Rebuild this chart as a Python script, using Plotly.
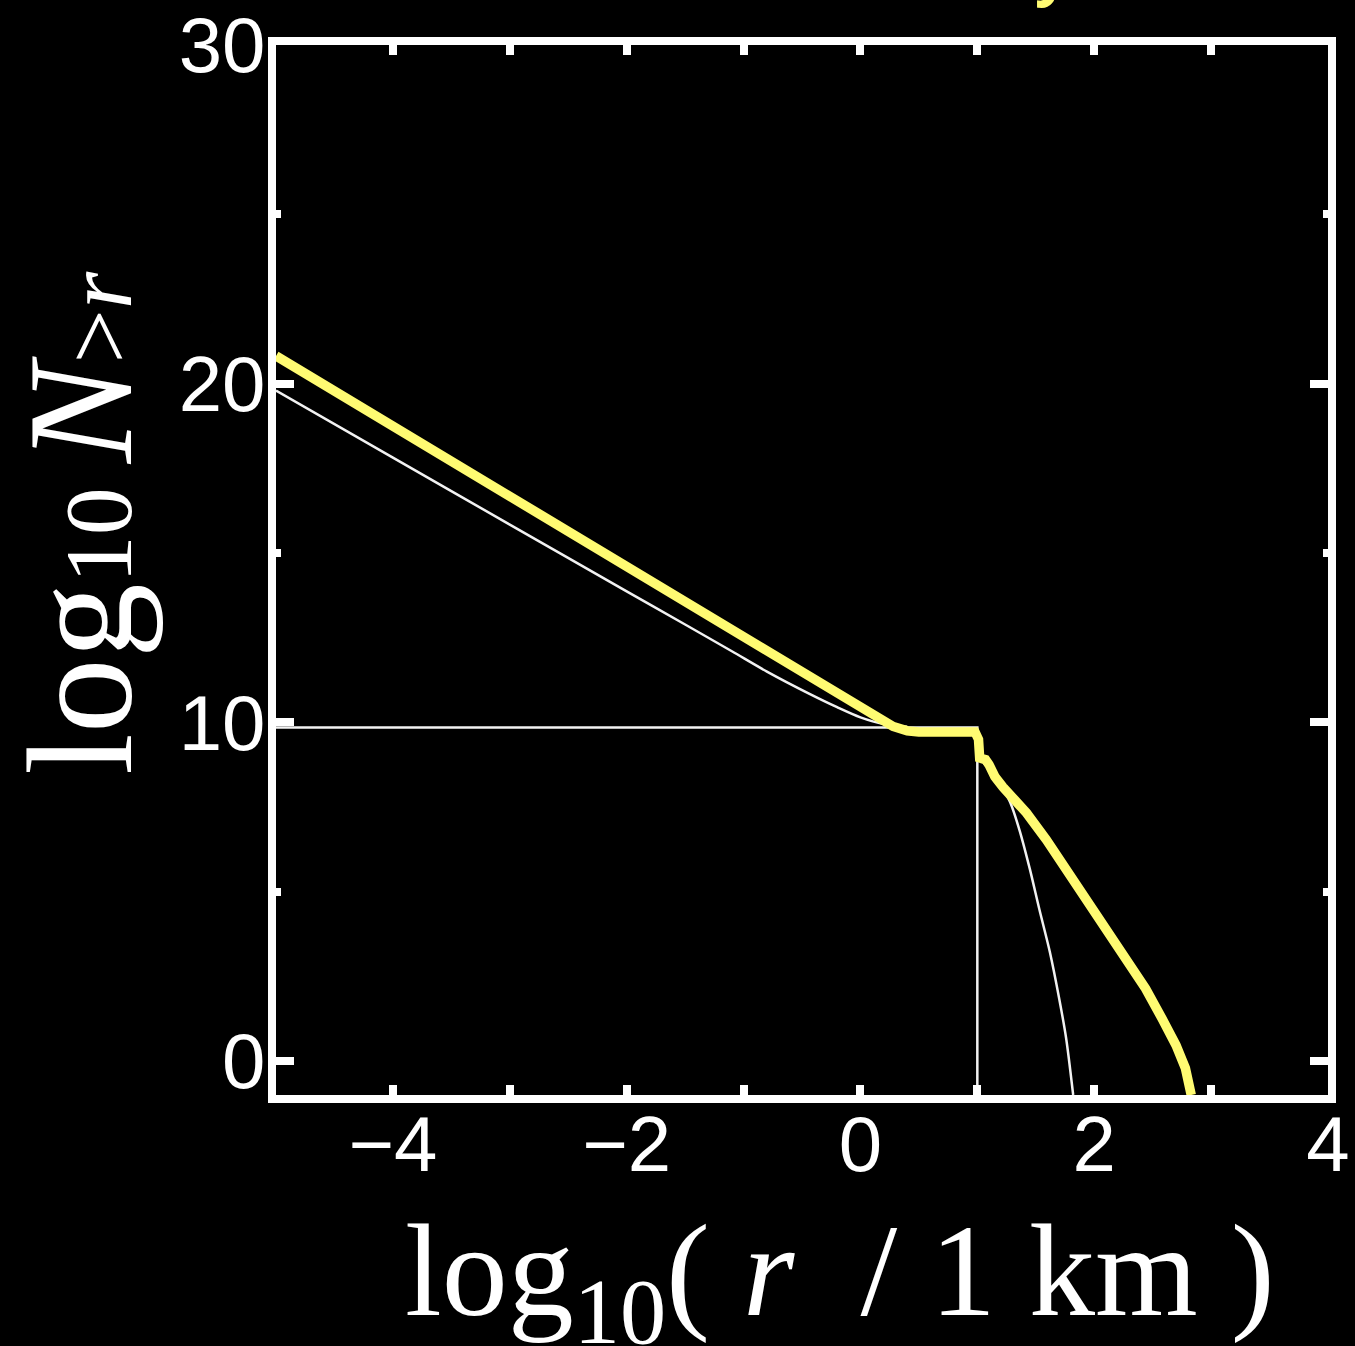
import plotly.graph_objects as go

# yellow: present-day size distribution
yellow_x = [-5.0, 0.0, 0.15, 0.28, 0.40, 0.50, 0.98, 1.01, 1.02, 1.07, 1.10, 1.12, 1.15, 1.22,
            1.42, 1.59, 1.76, 1.93, 2.10, 2.27, 2.44, 2.58, 2.70, 2.78, 2.83]
yellow_y = [20.82, 10.45, 10.12, 9.88, 9.75, 9.72, 9.72, 9.5, 8.95, 8.9, 8.75, 8.55, 8.4, 8.09,
            7.33, 6.54, 5.66, 4.78, 3.90, 3.01, 2.14, 1.26, 0.47, -0.21, -1.0]

# white thin curves
cascade_x = [-5.0, -4.0, -3.0, -2.0, -1.5, -1.1, -0.8, -0.44, -0.2, 0.0, 0.2, 0.4]
cascade_y = [19.8, 17.82, 15.84, 13.87, 12.89, 12.1, 11.5, 10.85, 10.45, 10.15, 9.95, 9.87]

initial_x = [-5.0, 1.0, 1.0]
initial_y = [9.85, 9.85, -1.0]

evolved_x = [1.03, 1.12, 1.20, 1.28, 1.36, 1.45, 1.53, 1.62, 1.70, 1.76, 1.82]
evolved_y = [8.9, 8.55, 8.15, 7.65, 6.83, 5.66, 4.49, 3.23, 1.85, 0.67, -1.0]

YELLOW = "#FFFB72"
WHITE = "#F2F2F2"

fig = go.Figure()
fig.add_trace(go.Scatter(x=cascade_x, y=cascade_y, mode="lines", showlegend=False,
                         line=dict(color=WHITE, width=2.5, shape="spline", smoothing=0.8)))
fig.add_trace(go.Scatter(x=initial_x, y=initial_y, mode="lines", showlegend=False,
                         line=dict(color=WHITE, width=2.5)))
fig.add_trace(go.Scatter(x=evolved_x, y=evolved_y, mode="lines", showlegend=False,
                         line=dict(color=WHITE, width=2.5, shape="spline", smoothing=0.8)))
fig.add_trace(go.Scatter(x=yellow_x, y=yellow_y, mode="lines", showlegend=False,
                         line=dict(color=YELLOW, width=9.5)))

axis_common = dict(showline=True, linecolor="white", linewidth=8, mirror="allticks",
                   ticks="inside", tickcolor="white", tickwidth=8,
                   showgrid=False, zeroline=False, automargin=False,
                   tickfont=dict(family="Liberation Sans", size=78, color="white"))

fig.update_xaxes(range=[-5, 4], tick0=0, dtick=2, ticklen=10, ticklabelstandoff=-26,
                 minor=dict(dtick=1, ticks="inside", ticklen=10, tickwidth=8, tickcolor="white"),
                 **axis_common)
fig.update_yaxes(range=[-1, 30], tick0=0, dtick=10, ticklen=18, ticklabelstandoff=-13,
                 minor=dict(dtick=5, ticks="inside", ticklen=5, tickwidth=8, tickcolor="white"),
                 **axis_common)

serif = "Liberation Serif"
fig.add_annotation(
    text="log<sub>10</sub>(\u00a0<i>r</i>\u00a0 /\u00a01\u00a0km\u00a0)",
    xref="paper", yref="paper", x=0.536, y=-0.176, xanchor="center", yanchor="middle",
    showarrow=False, font=dict(family=serif, size=132, color="white"))
fig.add_annotation(
    text="log<span style='font-size:96px'>10\u00a0</span><i>N</i>"
         "<span style='font-size:96px'>&gt;<i>r</i></span>",
    xref="paper", yref="paper", x=-0.187, y=0.545, xanchor="center", yanchor="middle",
    textangle=-90, showarrow=False, font=dict(family=serif, size=150, color="white"))
fig.add_annotation(
    text="<b>Today</b>", xref="paper", yref="paper", x=0.757, y=1.030,
    xanchor="right", yanchor="bottom", showarrow=False,
    font=dict(family="Open Sans", size=60, color=YELLOW))

fig.update_layout(width=1355, height=1346,
                  margin=dict(l=276, r=27, t=45, b=251),
                  paper_bgcolor="black", plot_bgcolor="black")

fig.write_html("out.html", config={"displayModeBar": False},
               post_script="document.body.style.margin='0';")
